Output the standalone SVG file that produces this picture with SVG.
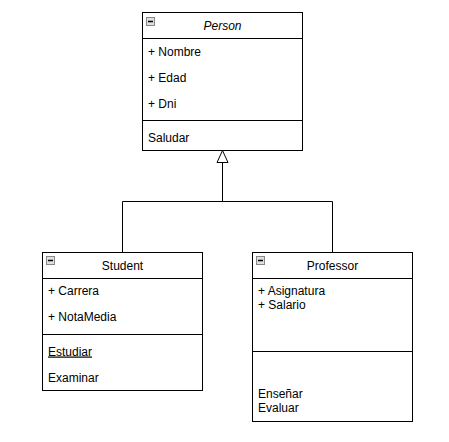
<svg xmlns="http://www.w3.org/2000/svg" width="449" height="442" viewBox="0 0 449 442">
<defs>
<style>
.box{fill:#fff;stroke:#000;stroke-width:1}
.ln{stroke:#000;stroke-width:1;fill:none}
.t{font-family:"Liberation Sans",Arial,sans-serif;font-size:12px;fill:#000}
.c{text-anchor:middle}
.ic{fill:#e0e0e0;stroke:#888;stroke-width:1}
.icm{stroke:#000;stroke-width:1.5}
</style>
</defs>
<rect width="449" height="442" fill="#fff"/>
<g id="connectors">
<path class="ln" d="M122.5 252.5V201.5H332.5V252.5"/>
<path class="ln" d="M222.5 201.5V162.5"/>
<path d="M222.5 150.5L217 162.5H228Z" fill="#fff" stroke="#000" stroke-width="1"/>
</g>
<g id="person">
<rect class="box" x="142.5" y="12.5" width="160" height="138"/>
<path class="ln" d="M142.5 38.5H302.5M142.5 120.5H302.5"/>
<rect class="ic" x="146.5" y="17.5" width="8" height="8"/>
<path class="icm" d="M148 21.5H153"/>
<text class="t c" x="222.5" y="29.5" font-style="italic">Person</text>
<text class="t" x="148" y="55.5">+ Nombre</text>
<text class="t" x="148" y="81.5">+ Edad</text>
<text class="t" x="148" y="107.5">+ Dni</text>
<text class="t" x="148" y="141.5">Saludar</text>
</g>
<g id="student">
<rect class="box" x="42.5" y="252.5" width="160" height="138"/>
<path class="ln" d="M42.5 278.5H202.5M42.5 334.5H202.5"/>
<rect class="ic" x="46.5" y="256.5" width="8" height="8"/>
<path class="icm" d="M48 260.5H53"/>
<text class="t c" x="122.5" y="269.5">Student</text>
<text class="t" x="48" y="295">+ Carrera</text>
<text class="t" x="48" y="321">+ NotaMedia</text>
<text class="t" x="48" y="355.5" text-decoration="underline">Estudiar</text>
<text class="t" x="48" y="381.5">Examinar</text>
</g>
<g id="professor">
<rect class="box" x="252.5" y="252.5" width="160" height="169"/>
<path class="ln" d="M252.5 278.5H412.5M252.5 351.5H412.5"/>
<rect class="ic" x="256.5" y="256.5" width="8" height="8"/>
<path class="icm" d="M258 260.5H263"/>
<text class="t c" x="332.5" y="269.5">Professor</text>
<text class="t" x="258" y="295">+ Asignatura</text>
<text class="t" x="258" y="309">+ Salario</text>
<text class="t" x="258" y="397.5">Enseñar</text>
<text class="t" x="258" y="411.5">Evaluar</text>
</g>
</svg>
